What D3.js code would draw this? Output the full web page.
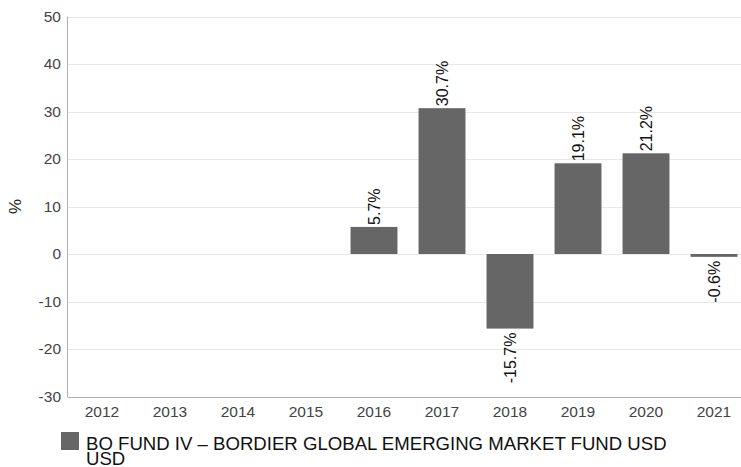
<!DOCTYPE html>
<html>
<head>
<meta charset="utf-8">
<script src="https://d3js.org/d3.v7.min.js"></script>
<style>
  html, body { margin: 0; padding: 0; background: #fff; overflow: hidden; }
  svg { display: block; font-family: "Liberation Sans", Arial, sans-serif; }
</style>
</head>
<body>
<div id="chart"></div>
<script>
var years = ["2012", "2013", "2014", "2015", "2016", "2017", "2018", "2019", "2020", "2021"];
var returns = [null, null, null, null, 5.7, 30.7, -15.7, 19.1, 21.2, -0.6];
var yTicks = [-30, -20, -10, 0, 10, 20, 30, 40, 50];
var seriesName = "BO FUND IV \u2013 BORDIER GLOBAL EMERGING MARKET FUND USD";
var seriesLine2 = "USD";

var width = 741, height = 467;
var plotLeft = 68, plotRight = 748, plotTop = 16.5, plotBottom = 396.5;

var svg = d3.select("#chart").append("svg")
    .attr("width", width)
    .attr("height", height);

var x = d3.scaleBand()
    .domain(years)
    .range([plotLeft, plotRight])
    .paddingInner(0.31)
    .paddingOuter(0.155);

var y = d3.scaleLinear()
    .domain([-30, 50])
    .range([plotBottom, plotTop]);

// gridlines
svg.append("g")
    .selectAll("line")
    .data(yTicks)
    .enter().append("line")
    .attr("x1", plotLeft)
    .attr("x2", plotRight)
    .attr("y1", function(d) { return Math.round(y(d)) + 0.5; })
    .attr("y2", function(d) { return Math.round(y(d)) + 0.5; })
    .attr("stroke", "#e8e8e8")
    .attr("stroke-width", 1);

// y tick labels
svg.append("g")
    .selectAll("text")
    .data(yTicks)
    .enter().append("text")
    .attr("x", 61)
    .attr("y", function(d) { return y(d); })
    .attr("dy", "0.35em")
    .attr("text-anchor", "end")
    .attr("font-size", 15.5)
    .attr("fill", "#444")
    .text(function(d) { return d; });

// y axis title
svg.append("text")
    .attr("transform", "translate(21," + ((plotTop + plotBottom) / 2) + ") rotate(-90)")
    .attr("text-anchor", "middle")
    .attr("font-size", 17)
    .attr("fill", "#222")
    .text("%");

// bars
var data = years.map(function(d, i) { return { year: d, value: returns[i] }; })
    .filter(function(d) { return d.value !== null; });

svg.append("g")
    .selectAll("rect")
    .data(data)
    .enter().append("rect")
    .attr("x", function(d) { return x(d.year); })
    .attr("width", x.bandwidth())
    .attr("y", function(d) { return y(Math.max(0, d.value)); })
    .attr("height", function(d) { return Math.abs(y(d.value) - y(0)); })
    .attr("fill", "#666666");

// value labels
svg.append("g")
    .selectAll("text")
    .data(data)
    .enter().append("text")
    .attr("transform", function(d) {
        var cx = x(d.year) + x.bandwidth() / 2 + 6;
        var cy = d.value >= 0 ? y(d.value) - 2 : y(d.value) + 4;
        return "translate(" + cx + "," + cy + ") rotate(-90)";
    })
    .attr("text-anchor", function(d) { return d.value >= 0 ? "start" : "end"; })
    .attr("font-size", 16)
    .attr("fill", "#111")
    .text(function(d) { return d.value.toFixed(1) + "%"; });

// axes lines
svg.append("line")
    .attr("x1", plotLeft - 0.5).attr("x2", plotLeft - 0.5)
    .attr("y1", plotTop).attr("y2", plotBottom + 0.5)
    .attr("stroke", "#b0b0b0");
svg.append("line")
    .attr("x1", plotLeft - 0.5).attr("x2", plotRight)
    .attr("y1", Math.round(plotBottom) + 0.5).attr("y2", Math.round(plotBottom) + 0.5)
    .attr("stroke", "#b0b0b0");

// x tick labels
svg.append("g")
    .selectAll("text")
    .data(years)
    .enter().append("text")
    .attr("x", function(d) { return x(d) + x.bandwidth() / 2; })
    .attr("y", 416.5)
    .attr("text-anchor", "middle")
    .attr("font-size", 15.5)
    .attr("fill", "#444")
    .text(function(d) { return d; });

// legend
var legend = svg.append("g");
legend.append("rect")
    .attr("x", 61).attr("y", 432)
    .attr("width", 18).attr("height", 18)
    .attr("fill", "#666666");
legend.append("text")
    .attr("x", 86).attr("y", 449.5)
    .attr("font-size", 18.6)
    .attr("fill", "#111")
    .text(seriesName);
legend.append("text")
    .attr("x", 86).attr("y", 465)
    .attr("font-size", 18.6)
    .attr("fill", "#111")
    .text(seriesLine2);
</script>
</body>
</html>
